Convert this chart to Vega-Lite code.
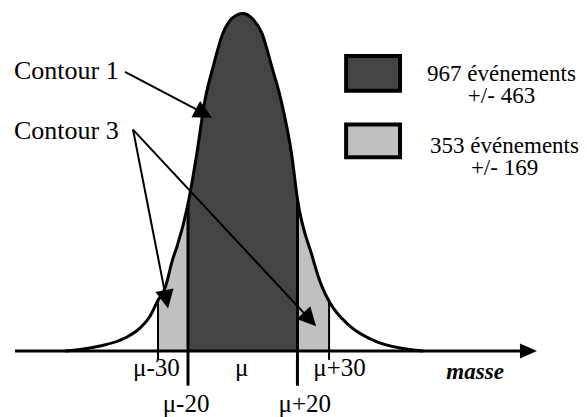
{
  "$schema": "https://vega.github.io/schema/vega-lite/v6.json",
  "width": 587,
  "height": 417,
  "autosize": {"type": "fit", "contains": "padding"},
  "padding": 0,
  "background": "white",
  "config": {"view": {"stroke": null}, "text": {"font": "Liberation Serif"}},
  "datasets": {
    "curve": [
      {"x": -64.7, "y": 0}, {"x": -58, "y": 2}, {"x": -52, "y": 5}, {"x": -42.9, "y": 13},
      {"x": -37.5, "y": 23}, {"x": -33.8, "y": 35}, {"x": -30.9, "y": 51}, {"x": -28.4, "y": 63},
      {"x": -25.5, "y": 93}, {"x": -24, "y": 105}, {"x": -20, "y": 148}, {"x": -17, "y": 195},
      {"x": -13.8, "y": 253}, {"x": -10.9, "y": 286}, {"x": -7.3, "y": 320}, {"x": -4, "y": 335},
      {"x": 0, "y": 340}, {"x": 3.3, "y": 335}, {"x": 6.9, "y": 320}, {"x": 10.5, "y": 286},
      {"x": 13.8, "y": 253}, {"x": 17.8, "y": 196}, {"x": 19.8, "y": 153}, {"x": 25.1, "y": 96},
      {"x": 28, "y": 70}, {"x": 31.3, "y": 50}, {"x": 38.9, "y": 25}, {"x": 48, "y": 10},
      {"x": 57.1, "y": 3}, {"x": 65.5, "y": 0}
    ],
    "bounds": [
      {"label": "μ-30", "contour": 3, "x": -30.9, "top": 51, "bottom": -9, "lx": -31.5, "ly": -25},
      {"label": "μ-20", "contour": 1, "x": -20, "top": 148, "bottom": -35, "lx": -20.7, "ly": -61},
      {"label": "μ", "contour": 0, "x": 0, "top": 0, "bottom": 0, "lx": -0.5, "ly": -25},
      {"label": "μ+20", "contour": 1, "x": 19.8, "top": 153, "bottom": -35, "lx": 22.5, "ly": -61},
      {"label": "μ+30", "contour": 3, "x": 31.3, "top": 50, "bottom": -9, "lx": 35.1, "ly": -25}
    ],
    "axis": [{"name": "masse", "x0": -82.9, "x1": 102.5, "y": 0, "tipx": 103.8, "lx": 84.4, "ly": -28.5}],
    "arrows": [
      {"label": "Contour 1", "x0": -42.9, "y0": 281, "cx": -14.2, "cy": 239.3, "angle": 117.9},
      {"label": "Contour 3", "x0": -40, "y0": 223, "cx": -27.9, "cy": 52, "angle": 169},
      {"label": "Contour 3", "x0": -40, "y0": 223, "cx": 24.3, "cy": 31.8, "angle": 137.2}
    ],
    "labels": [
      {"label": "Contour 1", "tx": -83.3, "ty": 274},
      {"label": "Contour 3", "tx": -83.3, "ty": 213}
    ],
    "legend": [
      {"contour": "Contour 1", "x1": 37.5, "x2": 57.1, "y1": 297, "y2": 262},
      {"contour": "Contour 3", "x1": 37.5, "x2": 57.1, "y1": 228, "y2": 195}
    ],
    "legendText": [
      {"text": "967 événements\n+/- 463", "x": 94.0, "y": 272},
      {"text": "353 événements\n+/- 169", "x": 95.1, "y": 199}
    ]
  },
  "layer": [
    {
      "data": {"name": "curve"},
      "transform": [{"filter": "datum.x >= -30.9 && datum.x <= -20"}],
      "mark": {"type": "area", "color": "#c0c0c0", "interpolate": "monotone"},
      "encoding": {
        "x": {"field": "x", "type": "quantitative", "scale": {"domain": [-88.36, 125.09], "nice": false, "zero": false}, "axis": null},
        "y": {"field": "y", "type": "quantitative", "scale": {"domain": [-63.5, 353.5], "nice": false, "zero": false}, "axis": null},
        "y2": {"datum": 0}
      }
    },
    {
      "data": {"name": "curve"},
      "transform": [{"filter": "datum.x >= 19.8 && datum.x <= 31.3"}],
      "mark": {"type": "area", "color": "#c0c0c0", "interpolate": "monotone"},
      "encoding": {
        "x": {"field": "x", "type": "quantitative", "scale": {"domain": [-88.36, 125.09], "nice": false, "zero": false}, "axis": null},
        "y": {"field": "y", "type": "quantitative", "scale": {"domain": [-63.5, 353.5], "nice": false, "zero": false}, "axis": null},
        "y2": {"datum": 0}
      }
    },
    {
      "data": {"name": "curve"},
      "transform": [{"filter": "datum.x >= -20 && datum.x <= 19.8"}],
      "mark": {"type": "area", "color": "#444444", "interpolate": "monotone"},
      "encoding": {
        "x": {"field": "x", "type": "quantitative", "scale": {"domain": [-88.36, 125.09], "nice": false, "zero": false}, "axis": null},
        "y": {"field": "y", "type": "quantitative", "scale": {"domain": [-63.5, 353.5], "nice": false, "zero": false}, "axis": null},
        "y2": {"datum": 0}
      }
    },
    {
      "data": {"name": "bounds"},
      "transform": [{"filter": "datum.contour == 3"}],
      "mark": {"type": "rule", "color": "black", "strokeWidth": 2},
      "encoding": {
        "x": {"field": "x", "type": "quantitative"},
        "y": {"field": "top", "type": "quantitative"},
        "y2": {"field": "bottom"}
      }
    },
    {
      "data": {"name": "bounds"},
      "transform": [{"filter": "datum.contour == 1"}],
      "mark": {"type": "rule", "color": "black", "strokeWidth": 3},
      "encoding": {
        "x": {"field": "x", "type": "quantitative"},
        "y": {"field": "top", "type": "quantitative"},
        "y2": {"field": "bottom"}
      }
    },
    {
      "data": {"name": "curve"},
      "mark": {"type": "line", "color": "black", "strokeWidth": 3, "interpolate": "monotone"},
      "encoding": {
        "x": {"field": "x", "type": "quantitative"},
        "y": {"field": "y", "type": "quantitative"}
      }
    },
    {
      "data": {"name": "axis"},
      "mark": {"type": "rule", "color": "black", "strokeWidth": 3},
      "encoding": {
        "x": {"field": "x0", "type": "quantitative"},
        "x2": {"field": "x1"},
        "y": {"field": "y", "type": "quantitative"}
      }
    },
    {
      "data": {"name": "axis"},
      "mark": {"type": "point", "shape": "M1,0L-1,-0.88L-1,0.88Z", "filled": true, "color": "black", "opacity": 1, "size": 289, "strokeWidth": 0},
      "encoding": {
        "x": {"field": "tipx", "type": "quantitative"},
        "y": {"field": "y", "type": "quantitative"}
      }
    },
    {
      "data": {"name": "axis"},
      "mark": {"type": "text", "font": "Liberation Serif", "fontSize": 23, "fontWeight": "bold", "fontStyle": "italic", "align": "center", "baseline": "alphabetic", "color": "black"},
      "encoding": {
        "x": {"field": "lx", "type": "quantitative"},
        "y": {"field": "ly", "type": "quantitative"},
        "text": {"field": "name"}
      }
    },
    {
      "data": {"name": "bounds"},
      "mark": {"type": "text", "font": "Liberation Serif", "fontSize": 25, "align": "center", "baseline": "alphabetic", "color": "black"},
      "encoding": {
        "x": {"field": "lx", "type": "quantitative"},
        "y": {"field": "ly", "type": "quantitative"},
        "text": {"field": "label"}
      }
    },
    {
      "data": {"name": "arrows"},
      "mark": {"type": "rule", "color": "black", "strokeWidth": 2},
      "encoding": {
        "x": {"field": "x0", "type": "quantitative"},
        "y": {"field": "y0", "type": "quantitative"},
        "x2": {"field": "cx"},
        "y2": {"field": "cy"}
      }
    },
    {
      "data": {"name": "arrows"},
      "mark": {"type": "point", "shape": "M0,-1L1,1L-1,1Z", "filled": true, "color": "black", "opacity": 1, "size": 340, "strokeWidth": 0},
      "encoding": {
        "x": {"field": "cx", "type": "quantitative"},
        "y": {"field": "cy", "type": "quantitative"},
        "angle": {"field": "angle", "type": "quantitative", "scale": null}
      }
    },
    {
      "data": {"name": "labels"},
      "mark": {"type": "text", "font": "Liberation Serif", "fontSize": 26, "align": "left", "baseline": "alphabetic", "color": "black"},
      "encoding": {
        "x": {"field": "tx", "type": "quantitative"},
        "y": {"field": "ty", "type": "quantitative"},
        "text": {"field": "label"}
      }
    },
    {
      "data": {"name": "legend"},
      "mark": {"type": "rect", "stroke": "black", "strokeWidth": 4, "opacity": 1},
      "encoding": {
        "x": {"field": "x1", "type": "quantitative"},
        "x2": {"field": "x2"},
        "y": {"field": "y1", "type": "quantitative"},
        "y2": {"field": "y2"},
        "fill": {"field": "contour", "type": "nominal", "scale": {"domain": ["Contour 1", "Contour 3"], "range": ["#444444", "#c0c0c0"]}, "legend": null}
      }
    },
    {
      "data": {"name": "legendText"},
      "mark": {"type": "text", "font": "Liberation Serif", "fontSize": 23, "lineBreak": "\n", "lineHeight": 22, "align": "center", "baseline": "alphabetic", "color": "black"},
      "encoding": {
        "x": {"field": "x", "type": "quantitative"},
        "y": {"field": "y", "type": "quantitative"},
        "text": {"field": "text"}
      }
    }
  ]
}
